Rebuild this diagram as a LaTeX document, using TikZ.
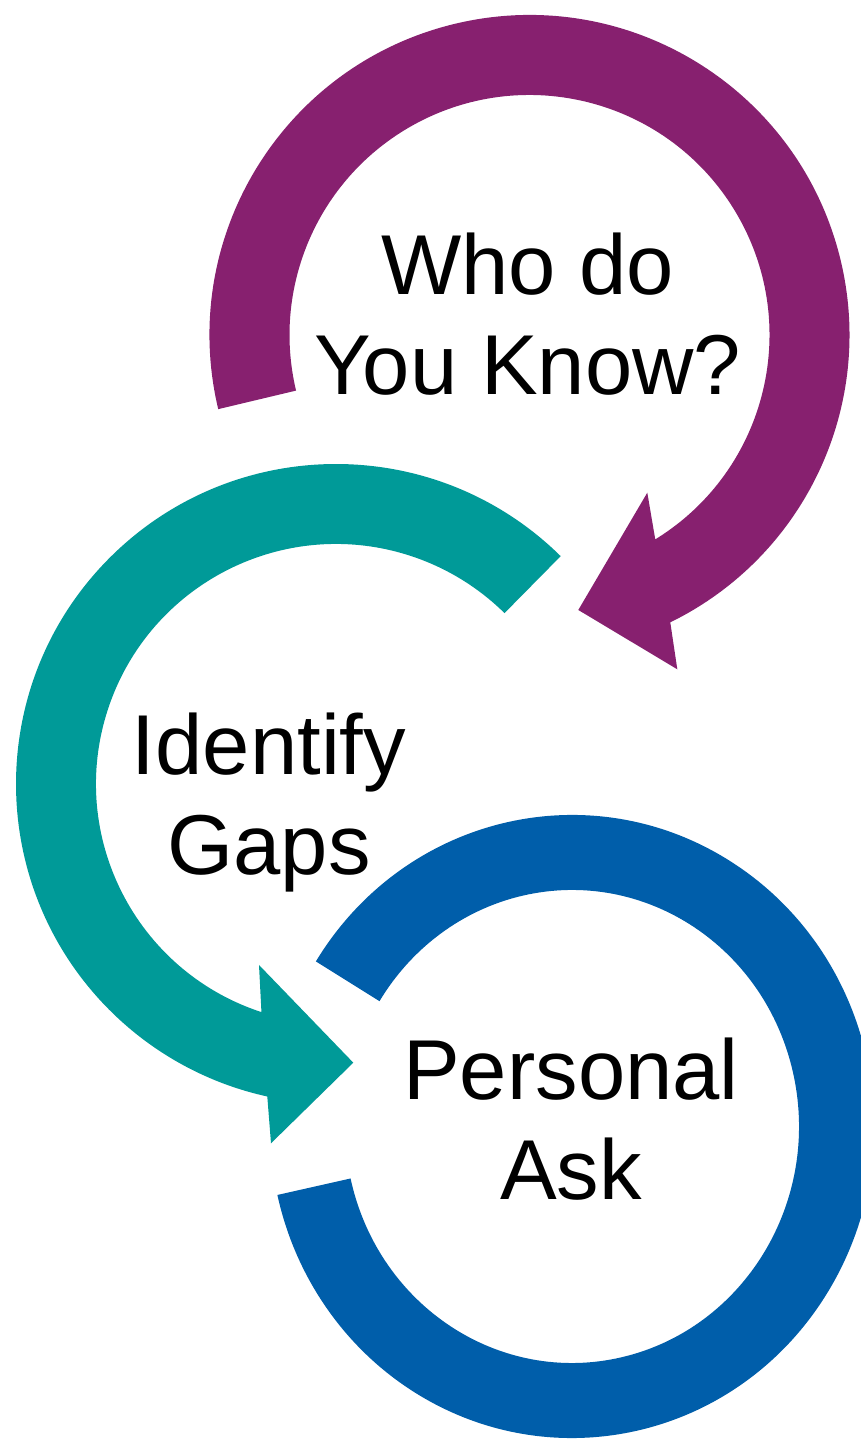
\documentclass[tikz,border=0pt]{standalone}
\usepackage{fontspec}
\setmainfont{Liberation Sans}
\definecolor{cpurple}{HTML}{87206F}
\definecolor{cteal}{HTML}{009A98}
\definecolor{cblue}{HTML}{005EAA}
\begin{document}
\begin{tikzpicture}[x=1pt,y=1pt,
  lbl/.style={font=\fontsize{85}{100}\selectfont, align=center, inner sep=0pt, anchor=base}]
\useasboundingbox (0,0) rectangle (861,1440);
\fill[white] (0,0) rectangle (861,1440);
% purple arrow
\coordinate (pc) at (529.5,1105);
\fill[cpurple] ([shift={(193.4:320)}]pc) arc[start angle=193.4, end angle=-63.9, radius=320pt]
  -- (677.3,770.7) -- (578.3,830) -- (647.3,947.3)
  -- ([shift={(-58.4:240)}]pc) arc[start angle=-58.4, end angle=193.4, radius=240pt] -- cycle;
% teal arrow
\coordinate (tc) at (336,656);
\fill[cteal] ([shift={(45.4:320)}]tc) arc[start angle=45.4, end angle=257.6, radius=320pt]
  -- (271,296.7) -- (353.3,377.3) -- (259,475)
  -- ([shift={(251.9:240)}]tc) arc[start angle=251.9, end angle=45.4, radius=240pt] -- cycle;
% blue arc
\coordinate (bc) at (572,313.5);
\fill[cblue] ([shift={(148:302 and 311.5)}]bc) arc[start angle=148, end angle=-167.3, x radius=302pt, y radius=311.5pt]
  -- ([shift={(-167.3:227 and 236.5)}]bc) arc[start angle=-167.3, end angle=148, x radius=227pt, y radius=236.5pt] -- cycle;
% labels (anchor = baseline of last line)
\node[lbl] (who) at (527.5,1045) {Who do\\You Know?};
\node[lbl] (gaps) at (269,565) {Identify\\Gaps};
\node[lbl] (ask) at (571,240) {Personal\\Ask};
\end{tikzpicture}
\end{document}
